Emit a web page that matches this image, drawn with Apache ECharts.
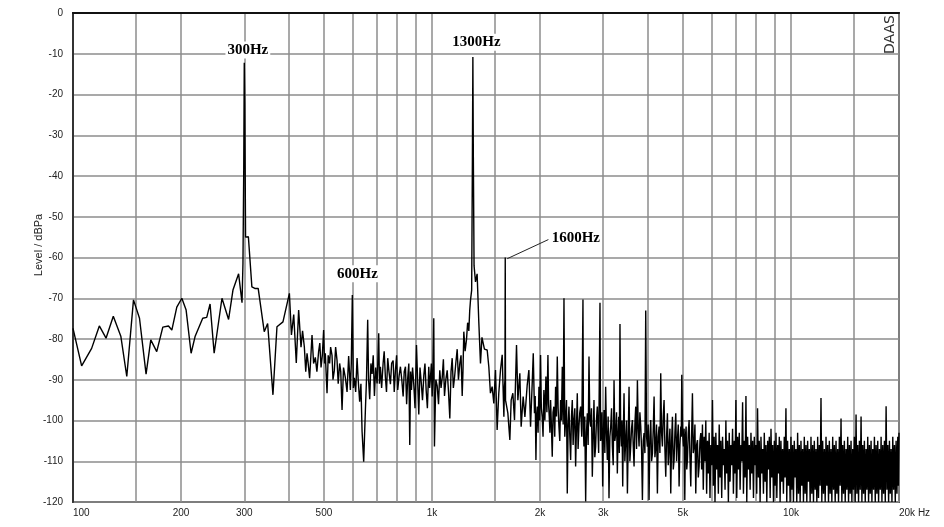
<!DOCTYPE html>
<html><head><meta charset="utf-8">
<script src="https://cdn.jsdelivr.net/npm/echarts@6/dist/echarts.min.js"></script>
<style>html,body{margin:0;padding:0;background:#fff}#c{width:944px;height:527px}</style>
</head><body><div id="c"></div>
<script>
// [frequency Hz, level dBPa]
const spectrumLow = [
[100,-77.4],[105.7,-86.6],[112.7,-82.3],[118.4,-76.8],[123.6,-79.8],[129.5,-74.4],[135.9,-79.3],[141.2,-89.2],
[147.4,-70.4],[153.2,-74.9],[159.8,-88.6],[164.7,-80.2],[171.1,-83.1],[177.9,-77.1],[184.5,-76.8],[188.5,-77.8],
[194.6,-72.2],[201,-70.0],[206.6,-72.9],[213.3,-83.5],[218.8,-79.4],[229.8,-74.9],[235.8,-74.7],[240.9,-71.4],
[247.3,-83.5],[260,-70.0],[271.3,-75.2],[279,-68.0],[289.3,-64.0],[295.7,-71.1],[297.5,-61.4],[299,-38],
[300,-12.2],[301,-22],[302.5,-55],[308,-54.9],[315,-67.2],[321,-67.6],[328,-67.6],[341,-78.2],[348.5,-76.2],
[360.6,-93.7],[370,-77.0],[384.5,-75.8],[400.7,-68.8],[406,-79],[412,-74],[418.8,-85.9],[425.2,-72.9],[431.7,-82],
[436,-78],[441,-81.9],[445,-88],[448.7,-83.5],[452,-86],[456.2,-89.6],[460,-84],[463.3,-79],[468,-86],[473.2,-84.5],
[478,-88],[483.4,-83],[487,-81],[490.9,-87],[495,-84],[499.1,-77.8],[502,-86],[504.5,-83.5],[507,-88],[510.1,-93.3],
[514,-84],[518.7,-86],[522,-82],[526.7,-84],[530,-90],[534.6,-87.7],[539,-82],[544,-85.3],[548,-91],[553.1,-86],
[557,-88],[561.7,-97.4],[567,-87],[573.7,-89.5],[580,-93],[586,-84.2],[589,-88],[592.5,-92.5],[596,-86],[600,-69.2],
[604,-92],[607.9,-89.5],[613,-93],[618.5,-84.7],[623,-90],[628.9,-95.4],[634,-91],[638.7,-102.7],[645.3,-110.1],
[652.4,-97.5],[657,-90],[662.1,-75.3],[666,-90],[670.7,-94.8],[676,-86],[681.1,-88.6],[686,-84],[691.3,-94],[697,-87],
[703.3,-90.9],[707,-85],[710.6,-78.6],[714,-91],[718.4,-86.8],[724,-92],[730.9,-86],[736,-83],[741.9,-89.5],[747,-93],
[752.9,-84.7],[759,-88],[766,-91.1],[772,-86],[779.5,-85.3],[785,-93],[791.1,-87.7],[797,-84],[802.8,-92.5],[810,-89],
[816.8,-86.8],[824,-90],[831.2,-94.1],[837,-88],[843.6,-86.8],[850,-96],[856.1,-89.5],[862,-86],[867.2,-106],[872,-88],
[876.7,-92.5],[883,-87],[889.7,-91],[897,-97],[905.4,-81.5],[912,-90],[918.9,-98.5],[926,-87],[933.2,-90.5],[941,-95],
[949,-89],[956,-86],[963.4,-92.5],[971,-97],[979.7,-86.8],[985,-92],[990.4,-89.5],[996,-86],[1001.3,-94.1],[1006,-88],
[1011.6,-74.9],[1016,-106.4],[1025,-90],[1034,-91.5],[1043,-96],[1051.4,-87.7],[1060,-92],[1067.9,-89.5],[1076,-85],
[1083.7,-94],[1093,-90],[1102.6,-87.7],[1112,-93],[1121.3,-99.5],[1130,-88],[1138.5,-84.7],[1147,-92],[1155.6,-89.5],
[1165,-86],[1175.7,-82.5],[1185,-90],[1195.6,-86],[1205,-84],[1214,-94],[1220,-88],[1226.6,-78.2],[1237,-83],
[1248,-80.1],[1257,-76],[1266.8,-78],[1274,-73],[1280.6,-70.4],[1290,-68],[1296,-36],[1300,-10.8],[1304,-35.6],
[1310,-62],[1322,-66],[1336,-64],[1350,-75.5],[1365,-86],[1378,-79.6],[1400,-82.5]
];
const spectrumMid = [
[1425,-82.7],[1440,-86.8],[1455,-93.3],[1471,-91.7],[1487,-95.8],[1503,-87.6],[1519,-102.3],[1535,-93.3],
[1552,-87.6],[1569,-83.9],[1586,-99.1],[1592,-91.7],[1597,-90],[1600,-60],[1603,-95],[1627,-98.2],[1648,-104.8],
[1662,-95],[1680,-93.3],[1698,-99.9],[1720,-81.5],[1735,-95],[1757,-88.4],[1772,-101.5],[1795,-94.1],[1815,-99.1],
[1842,-91.3],[1862,-87.6],[1882,-101.5],[1902,-90.9],[1915,-83.5],[1930,-98.2],[1939,-94],[1948,-109.7],[1956,-99],
[1965,-96.6],[1975,-103],[1986,-91.7],[1996,-100],[2007,-83.9],[2017,-97],[2028,-99.1],[2039,-104],[2050,-92.5],
[2063,-100],[2077,-89.2],[2090,-98],[2104,-83.9],[2113,-96],[2122,-99.1],[2131,-103],[2140,-95],[2151,-101],
[2163,-108.9],[2174,-98],[2186,-96.6],[2198,-104],[2210,-91.7],[2222,-99],[2234,-84.3],[2246,-97],[2258,-101.5],
[2270,-105],[2282,-95],[2294,-100],[2307,-86.8],[2320,-101],[2332,-70],[2344,-104],[2357,-99.9],[2370,-95],
[2382,-117.9],[2395,-101],[2408,-96.6],[2421,-104],[2434,-109.7],[2447,-99],[2460,-95],[2473,-106],[2486,-99.9],
[2500,-97],[2513,-111.3],[2526,-102],[2540,-93.3],[2553,-107],[2567,-101.5],[2581,-98],[2595,-96.6],[2614,-104],
[2634,-70.3],[2642,-102],[2651,-106.4],[2665,-99],[2680,-119.9],[2694,-103],[2709,-98.2],[2723,-106],[2738,-84.3],
[2752,-100],[2767,-101.5],[2782,-97],[2797,-113.8],[2812,-104],[2827,-95],[2842,-109],[2857,-106.4],[2872,-100],
[2888,-96.6],[2913,-108],[2938,-71.1],[2950,-105],[2963,-103.1],[2976,-98],[2989,-116.2],[3002,-104],[3015,-97.4],
[3031,-108],[3047,-91.7],[3063,-103],[3080,-109.7],[3096,-99],[3113,-119.1],[3130,-104],[3147,-101.5],[3164,-97],
[3181,-106.4],[3198,-111],[3215,-90.1],[3232,-105],[3250,-103.1],[3267,-98],[3284,-113],[3298,-104],[3313,-99.1],
[3326,-108],[3340,-76.3],[3355,-103],[3370,-106.4],[3384,-100],[3399,-116.2],[3413,-103],[3428,-93.3],[3446,-110],
[3465,-104.8],[3484,-100],[3503,-117.9],[3521,-105],[3540,-91.7],[3559,-110],[3578,-106.4],[3597,-102],[3617,-99.9],
[3636,-106],[3656,-111.3],[3675,-101],[3695,-96.6],[3715,-107],[3735,-90.1],[3755,-102],[3775,-106.4],[3795,-98],
[3816,-101.5],[3836,-107],[3857,-119.5],[3877,-105],[3898,-103.1],[3919,-108],[3940,-73],[3961,-104],[3982,-106.4],
[4003,-101],[4025,-119.5],[4047,-104],[4069,-99.9],[4091,-110],[4113,-108.1],[4135,-102],[4157,-94.1],[4179,-109],
[4201,-106.4],[4223,-101],[4246,-117.9],[4269,-104],[4292,-101.5],[4315,-108],[4338,-88.4],[4361,-103],[4385,-106.4],
[4408,-99],[4432,-95],[4456,-107],[4480,-113.8],[4504,-104],[4528,-98.2],[4552,-111],[4577,-106.4],[4601,-102],
[4626,-117.9],[4651,-105],[4676,-99.1],[4701,-112],[4726,-109.7],[4751,-103],[4777,-98.2],[4802,-110],[4828,-104.8],
[4854,-101],[4880,-116.2],[4906,-106],[4933,-101.5],[4949,-104],[4965,-88.8],[4991,-103],[5018,-106.4],[5040,-102],
[5062,-119.5],[5083,-104],[5105,-101.5],[5126,-112],[5148,-109.7],[5176,-103],[5204,-99.9],[5232,-109],[5260,-116.2],
[5288,-104],[5316,-93.3],[5344,-108],[5373,-106.4],[5402,-101],[5431,-117.9],[5460,-106],[5490,-104.8],[5519,-114],
[5549,-111.3],[5579,-105],[5609,-103.1]
];
const spectrumHigh = [
[5639,-112],[5669,-101],[5699,-117],[5730,-104],[5761,-110],[5792,-100],[5823,-118],[5855,-105],[5886,-113],[5918,-103],
[5950,-119],[5982,-106],[6014,-111],[6046,-95],[6078,-116],[6111,-104],[6144,-120],[6177,-103],[6210,-112],[6244,-106],
[6278,-118],[6312,-101],[6346,-114],[6380,-105],[6414,-119],[6449,-104],[6483,-111],[6518,-107],[6553,-117],[6588,-100],
[6623,-113],[6659,-105],[6695,-120],[6731,-103],[6767,-115],[6804,-106],[6840,-111],[6877,-102],[6914,-118],[6951,-105],
[6988,-113],[7026,-95],[7064,-119],[7102,-104],[7140,-112],[7179,-103],[7217,-117],[7256,-106],[7295,-110],[7334,-95.5],
[7373,-118],[7413,-105],[7453,-114],[7493,-94],[7533,-120],[7574,-104],[7615,-112],[7656,-106],[7697,-117],[7738,-103],
[7780,-113],[7822,-105],[7864,-119],[7906,-104],[7947,-111],[7988,-106],[8030,-118],[8072,-97],[8116,-114],[8160,-105],
[8205,-120],[8251,-104],[8295,-113],[8340,-107],[8384,-118],[8429,-103],[8474,-115],[8520,-106],[8566,-120],[8612,-105],
[8658,-112],[8705,-104],[8752,-119],[8799,-102],[8846,-114],[8894,-106],[8941,-120],[8989,-105],[9037,-116],[9086,-103],
[9135,-119],[9184,-106],[9232,-113],[9281,-104],[9329,-120],[9378,-105],[9428,-115],[9479,-107],[9530,-118],[9581,-104],
[9632,-114],[9684,-97],[9736,-120],[9788,-105],[9841,-116],[9894,-107],[9947,-120],[10000,-104],[10054,-117],[10108,-106],
[10162,-120],[10217,-105],[10272,-114],[10327,-107],[10382,-120],[10438,-103],[10494,-118],[10551,-106],[10607,-120],
[10664,-105],[10721,-116],[10779,-107],[10837,-120],[10895,-104],[10954,-118],[11013,-106],[11072,-120],[11131,-105],
[11191,-115],[11251,-107],[11311,-120],[11372,-104],[11433,-118],[11495,-106],[11556,-120],[11618,-105],[11681,-117],
[11744,-107],[11807,-120],[11870,-104],[11934,-119],[11998,-106],[12062,-116],[12126,-94.5],[12191,-120],[12257,-105],
[12323,-118],[12389,-107],[12456,-120],[12523,-104],[12590,-116],[12657,-106],[12725,-120],[12794,-105],[12862,-118],
[12931,-107],[13001,-120],[13071,-104],[13141,-117],[13211,-106],[13282,-120],[13353,-105],[13425,-118],[13497,-107],
[13569,-120],[13642,-104],[13715,-116],[13789,-99.5],[13863,-120],[13938,-106],[14013,-118],[14088,-105],[14164,-120],
[14240,-107],[14316,-117],[14393,-104],[14470,-120],[14548,-106],[14626,-118],[14704,-105],[14783,-120],[14863,-107],
[14942,-117],[15022,-104],[15103,-120],[15184,-98.5],[15266,-118],[15348,-106],[15430,-120],[15513,-105],[15596,-117],
[15680,-99],[15764,-120],[15849,-106],[15934,-118],[16019,-105],[16105,-120],[16192,-107],[16279,-117],[16366,-104],
[16454,-120],[16542,-106],[16631,-118],[16720,-105],[16810,-120],[16900,-107],[16991,-117],[17082,-104],[17174,-120],
[17266,-106],[17359,-118],[17452,-105],[17546,-120],[17640,-107],[17735,-117],[17830,-104],[17926,-120],[18022,-106],
[18119,-118],[18216,-105],[18314,-120],[18412,-96.5],[18511,-117],[18611,-106],[18710,-120],[18810,-105],[18910,-118],
[19011,-107],[19114,-120],[19217,-104],[19320,-117],[19424,-106],[19528,-120],[19633,-105],[19738,-118],[19844,-104],
[19922,-116],[20000,-103]
];
const xLabelValues = [100,200,300,500,1000,2000,3000,5000,10000,20000];
const xLabelTexts = ['100','200','300','500','1k','2k','3k','5k','10k','20k Hz'];
const xGridValues = [150,200,300,400,500,600,700,800,900,1000,1500,2000,3000,4000,5000,6000,7000,8000,9000,10000,15000,20000];
const peakLabels = ['300Hz','600Hz','1300Hz','1600Hz'];
const peakLabelCoords = [[307,-9.1],[620,-64.0],[1330,-7.2],[2516,-55.2]];

const chart = echarts.init(document.getElementById('c'), null, {renderer:'canvas'});
const data = spectrumLow.concat(spectrumMid, spectrumHigh);
const gridColor = '#8c8c8c';
chart.setOption({
  animation:false,
  backgroundColor:'#fff',
  grid:{left:73,right:45,top:13,bottom:25,show:true,borderColor:'#555',borderWidth:2,backgroundColor:'transparent'},
  xAxis:{
    type:'log', logBase:10, min:100, max:20000,
    axisLine:{show:true,lineStyle:{color:'#111',width:2}},
    axisTick:{show:false,customValues:xGridValues},
    axisLabel:{
      customValues:xLabelValues,
      formatter:function(v){
        const i = xLabelValues.findIndex(x => Math.abs(x - v) / x < 0.01);
        return i >= 0 ? xLabelTexts[i] : '';
      },
      fontFamily:'Liberation Sans',fontSize:10,color:'#222',margin:6,
      showMinLabel:true,showMaxLabel:true,alignMinLabel:'left',alignMaxLabel:'left'
    },
    splitLine:{show:true,lineStyle:{color:gridColor,width:1.5}}
  },
  yAxis:{
    type:'value',min:-120,max:0,interval:10,
    axisLine:{show:true,lineStyle:{color:'#333',width:2}},
    axisTick:{show:false},
    axisLabel:{fontFamily:'Liberation Sans',fontSize:10,color:'#222',margin:10},
    splitLine:{show:true,lineStyle:{color:gridColor,width:1.5}}
  },
  graphic:[
    {type:'text',x:39,y:245,rotation:Math.PI/2,
     style:{text:'Level / dBPa',fontFamily:'Liberation Sans',fontSize:11,fill:'#222',align:'center',verticalAlign:'middle'}},
    {type:'text',x:897,y:15,rotation:Math.PI/2,
     style:{text:'DAAS',fontFamily:'DejaVu Sans',fontSize:14,fill:'#333',align:'right',verticalAlign:'bottom'}}
  ],
  series:[{
    type:'line',
    data:data,
    showSymbol:false,symbol:'none',
    lineStyle:{color:'#000',width:1.4},
    z:3,
    markPoint:{
      symbol:'circle',symbolSize:1,silent:true,
      itemStyle:{color:'rgba(0,0,0,0)'},
      label:{show:true,position:'inside',formatter:'{b}',color:'#000',backgroundColor:'#fff',padding:[1,2],
             fontFamily:'Liberation Serif',fontWeight:'bold',fontSize:15},
      data:peakLabels.map((t,i)=>({name:t,coord:peakLabelCoords[i]}))
    },
    markLine:{
      silent:true,symbol:['none','none'],
      lineStyle:{color:'#222',width:1,type:'solid'},
      label:{show:false},
      data:[[{coord:[1620,-60.3]},{coord:[2110,-55.6]}]]
    }
  }]
});
</script></body></html>
